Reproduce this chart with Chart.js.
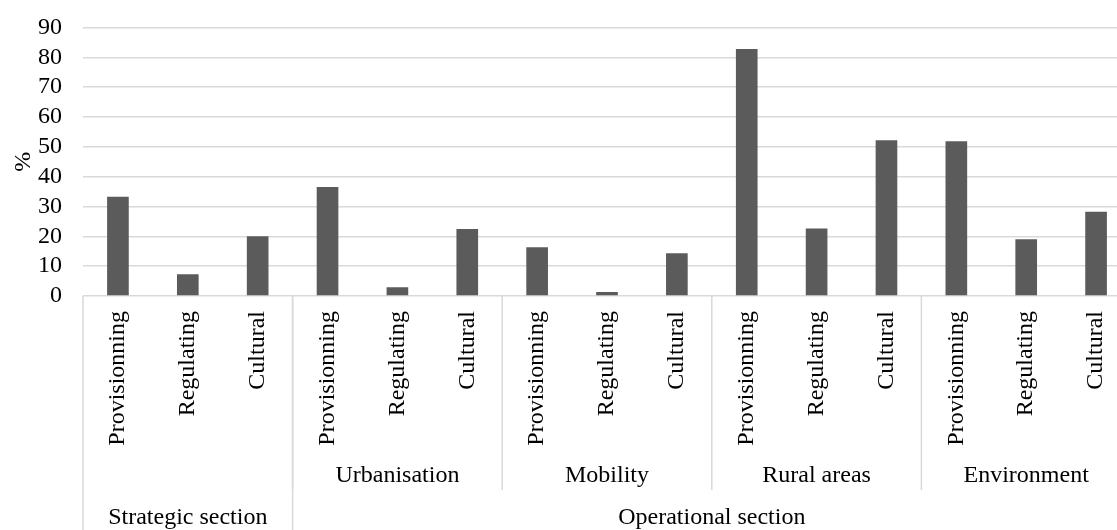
<!DOCTYPE html>
<html>
<head>
<meta charset="utf-8">
<script src="https://cdn.jsdelivr.net/npm/chart.js@4.4.0/dist/chart.umd.min.js"></script>
<style>
  html, body { margin: 0; padding: 0; background: #fff; overflow: hidden; }
  #wrap { width: 1131px; height: 530px; }
</style>
</head>
<body>
<div id="wrap"><canvas id="esChart"></canvas></div>
<script>
// ---- Data ----
const services = ['Provisionning', 'Regulating', 'Cultural',
                  'Provisionning', 'Regulating', 'Cultural',
                  'Provisionning', 'Regulating', 'Cultural',
                  'Provisionning', 'Regulating', 'Cultural',
                  'Provisionning', 'Regulating', 'Cultural'];
const themes = ['', 'Urbanisation', 'Mobility', 'Rural areas', 'Environment'];
const themeCounts = [3, 3, 3, 3, 3];
const sections = ['Strategic section', 'Operational section'];
const sectionCounts = [3, 12];
const shares = [33.3, 7.3, 20.0, 36.5, 2.9, 22.5, 16.3, 1.3, 14.3, 82.8, 22.6, 52.2, 51.9, 19.0, 28.2];
const yTicks = [0, 10, 20, 30, 40, 50, 60, 70, 80, 90];

const FONT = '"Liberation Serif", "Times New Roman", serif';
const SIZE = 24;

// ---- Multi-level category labels ----
const groupAxis = {
  id: 'groupAxis',
  afterDraw(chart) {
    const { ctx, scales: { x } } = chart;
    const half = (x.getPixelForValue(1) - x.getPixelForValue(0)) / 2;
    const top = x.top;
    const edge = i => x.getPixelForValue(i) - half;
    ctx.save();
    ctx.fillStyle = '#000';
    ctx.font = SIZE + 'px ' + FONT;

    // level 1: rotated service names
    services.forEach((s, i) => {
      ctx.save();
      ctx.translate(x.getPixelForValue(i), top + 15);
      ctx.rotate(-Math.PI / 2);
      ctx.textAlign = 'right';
      ctx.textBaseline = 'middle';
      ctx.fillText(s, 0, 0);
      ctx.restore();
    });

    ctx.strokeStyle = '#d9d9d9';
    ctx.lineWidth = 1.5;
    ctx.textAlign = 'center';
    ctx.textBaseline = 'middle';

    // level 2: themes
    let start = 0;
    themes.forEach((t, g) => {
      const n = themeCounts[g];
      const l = edge(start), r = edge(start + n);
      if (t) ctx.fillText(t, (l + r) / 2, top + 180);
      if (start > 0) {
        ctx.beginPath(); ctx.moveTo(l, top); ctx.lineTo(l, top + 194); ctx.stroke();
      }
      start += n;
    });

    // level 3: sections
    start = 0;
    sections.forEach((s, g) => {
      const n = sectionCounts[g];
      const l = edge(start), r = edge(start + n);
      ctx.fillText(s, (l + r) / 2, top + 222);
      ctx.beginPath(); ctx.moveTo(l, top); ctx.lineTo(l, chart.height); ctx.stroke();
      start += n;
    });
    ctx.restore();
  }
};

new Chart(document.getElementById('esChart'), {
  type: 'bar',
  data: {
    labels: services.map((s, i) => s + ' ' + i),
    datasets: [{
      data: shares,
      backgroundColor: '#5b5b5b',
      barPercentage: 0.31,
      categoryPercentage: 1.0,
    }]
  },
  options: {
    responsive: true, maintainAspectRatio: false, animation: false,
    layout: { padding: { top: 27.5, right: 0, bottom: 0, left: 0 } },
    plugins: { legend: { display: false }, tooltip: { enabled: false } },
    scales: {
      x: {
        grid: { display: false },
        border: { display: false },
        ticks: { display: false },
        afterFit: s => { s.height = 234; }
      },
      y: {
        min: 0, max: 90,
        afterBuildTicks: s => { s.ticks = yTicks.map(v => ({ value: v })); },
        grid: { color: '#d9d9d9', lineWidth: 1.5, drawTicks: false },
        border: { display: false },
        ticks: { color: '#000', font: { family: FONT, size: SIZE }, padding: 21, autoSkip: false },
        title: { display: true, text: '%', color: '#000', font: { family: FONT, size: SIZE }, padding: { top: 9, bottom: 0 } },
        afterFit: s => { s.width = 83; s.paddingTop = 0; s.paddingBottom = 0; }
      }
    }
  },
  plugins: [groupAxis]
});
</script>
</body>
</html>
